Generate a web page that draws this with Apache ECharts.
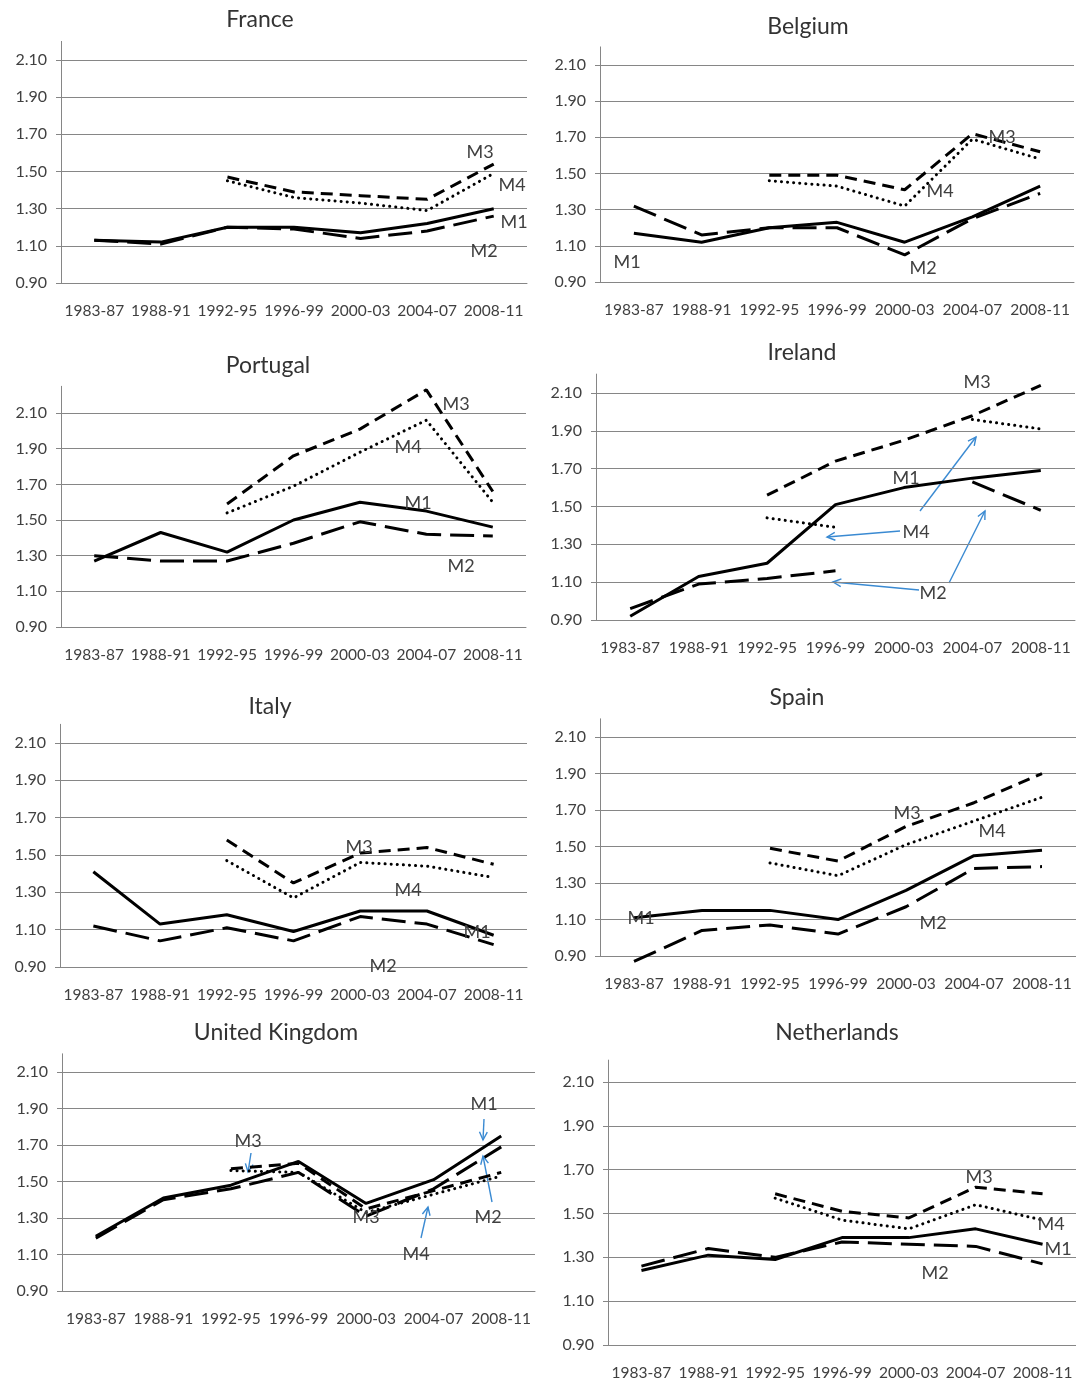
<!DOCTYPE html>
<html>
<head>
<meta charset="utf-8">
<script src="https://cdn.jsdelivr.net/npm/echarts@6/dist/echarts.min.js"></script>
<style>
  html, body { margin: 0; padding: 0; background: #fff; }
  #chart { width: 1076px; height: 1383px; }
</style>
</head>
<body>
<div id="chart"></div>
<script>
const periods = ['1983-87', '1988-91', '1992-95', '1996-99', '2000-03', '2004-07', '2008-11'];
const yTicks = [0.9, 1.1, 1.3, 1.5, 1.7, 1.9, 2.1];
const measures = ['M1', 'M2', 'M3', 'M4'];
const countries = ['France', 'Belgium', 'Portugal', 'Ireland', 'Italy', 'Spain', 'United Kingdom', 'Netherlands'];

// rows: M1, M2, M3, M4 (null = no value)
const france = [
  [1.13, 1.12, 1.20, 1.20, 1.17, 1.22, 1.30],
  [1.13, 1.11, 1.20, 1.19, 1.14, 1.18, 1.26],
  [null, null, 1.47, 1.39, 1.37, 1.35, 1.54],
  [null, null, 1.45, 1.36, 1.33, 1.29, 1.49]
];
const belgium = [
  [1.17, 1.12, 1.20, 1.23, 1.12, 1.26, 1.43],
  [1.32, 1.16, 1.20, 1.20, 1.05, 1.25, 1.39],
  [null, null, 1.49, 1.49, 1.41, 1.72, 1.62],
  [null, null, 1.46, 1.43, 1.32, 1.69, 1.58]
];
const portugal = [
  [1.27, 1.43, 1.32, 1.50, 1.60, 1.55, 1.46],
  [1.30, 1.27, 1.27, 1.37, 1.49, 1.42, 1.41],
  [null, null, 1.59, 1.86, 2.01, 2.23, 1.66],
  [null, null, 1.54, 1.69, 1.88, 2.06, 1.60]
];
const ireland = [
  [0.92, 1.13, 1.20, 1.51, 1.60, 1.65, 1.69],
  [0.96, 1.09, 1.12, 1.16, null, 1.63, 1.48],
  [null, null, 1.56, 1.74, 1.85, 1.98, 2.14],
  [null, null, 1.44, 1.39, null, 1.96, 1.91]
];
const italy = [
  [1.41, 1.13, 1.18, 1.09, 1.20, 1.20, 1.07],
  [1.12, 1.04, 1.11, 1.04, 1.17, 1.13, 1.02],
  [null, null, 1.58, 1.35, 1.51, 1.54, 1.45],
  [null, null, 1.47, 1.27, 1.46, 1.44, 1.38]
];
const spain = [
  [1.11, 1.15, 1.15, 1.10, 1.26, 1.45, 1.48],
  [0.87, 1.04, 1.07, 1.02, 1.17, 1.38, 1.39],
  [null, null, 1.49, 1.42, 1.61, 1.74, 1.90],
  [null, null, 1.41, 1.34, 1.51, 1.64, 1.77]
];
const uk = [
  [1.20, 1.41, 1.48, 1.61, 1.38, 1.51, 1.75],
  [1.19, 1.40, 1.46, 1.55, 1.31, 1.46, 1.69],
  [null, null, 1.57, 1.60, 1.35, 1.45, 1.55],
  [null, null, 1.56, 1.55, 1.33, 1.43, 1.53]
];
const netherlands = [
  [1.24, 1.31, 1.29, 1.39, 1.39, 1.43, 1.36],
  [1.26, 1.34, 1.30, 1.37, 1.36, 1.35, 1.27],
  [null, null, 1.59, 1.51, 1.48, 1.62, 1.59],
  [null, null, 1.57, 1.47, 1.43, 1.54, 1.47]
];
const countryData = [france, belgium, portugal, ireland, italy, spain, uk, netherlands];

// panel layout (pixels)
const panels = [
  { left: 61, top: 41.4, width: 466, height: 241.6, max: 2.2, tx: 260, ty: 20 },
  { left: 600, top: 46.9, width: 474, height: 235.1, max: 2.2, tx: 808, ty: 27 },
  { left: 61, top: 386.3, width: 465, height: 240.7, max: 2.25, tx: 268, ty: 366 },
  { left: 596, top: 374.1, width: 479, height: 245.9, max: 2.2, tx: 802, ty: 353 },
  { left: 60, top: 724.3, width: 467, height: 242.7, max: 2.2, tx: 270, ty: 707 },
  { left: 600, top: 718.8, width: 476, height: 237.2, max: 2.2, tx: 797, ty: 698 },
  { left: 62, top: 1053.8, width: 473, height: 237.2, max: 2.2, tx: 276, ty: 1033 },
  { left: 608, top: 1060.1, width: 468, height: 284.9, max: 2.2, tx: 837, ty: 1033 }
];

// hand-placed series labels
const notes = [
  ['M3', 480, 152], ['M4', 512, 185], ['M1', 514, 222], ['M2', 484, 251],
  ['M3', 1002, 137], ['M4', 940, 191], ['M2', 923, 268], ['M1', 627, 262],
  ['M3', 456, 404], ['M4', 408, 447], ['M1', 418, 503], ['M2', 461, 566],
  ['M3', 977, 382], ['M1', 906, 478], ['M4', 916, 532], ['M2', 933, 593],
  ['M3', 359, 847], ['M4', 408, 890], ['M1', 477, 932], ['M2', 383, 966],
  ['M3', 907, 813], ['M4', 992, 831], ['M1', 641, 918], ['M2', 933, 923],
  ['M1', 484, 1104], ['M3', 248, 1141], ['M3', 366, 1217], ['M2', 488, 1217], ['M4', 416, 1254],
  ['M3', 979, 1177], ['M4', 1051, 1224], ['M1', 1058, 1249], ['M2', 935, 1273]
];
const arrows = [
  [920, 511, 976, 437], [900, 531, 827, 537], [919, 590, 833, 582], [949, 583, 985, 511],
  [484, 1119, 483, 1140], [251, 1153, 248, 1172], [492, 1202, 483, 1156], [421, 1238, 428, 1207]
];

const font = 'Lato, "Open Sans", sans-serif';
const gray = '#868686';
const textColor = '#404040';
const blue = '#3a8ad2';

const lineStyles = [
  { color: '#000', width: 3, type: 'solid' },
  { color: '#000', width: 3, type: [24, 9] },
  { color: '#000', width: 3, type: [12, 7] },
  { color: '#000', width: 3, type: [0.1, 6], cap: 'round' }
];

function arrow(a) {
  const [x1, y1, x2, y2] = a;
  const ang = Math.atan2(y2 - y1, x2 - x1), h = 9, s = 0.45;
  return {
    type: 'group', silent: true,
    children: [
      { type: 'line', shape: { x1, y1, x2, y2 }, style: { stroke: blue, lineWidth: 1.4 } },
      { type: 'polyline', shape: { points: [
          [x2 - h * Math.cos(ang - s), y2 - h * Math.sin(ang - s)],
          [x2, y2],
          [x2 - h * Math.cos(ang + s), y2 - h * Math.sin(ang + s)]
        ] }, style: { stroke: blue, lineWidth: 1.4, fill: null } }
    ]
  };
}

const grids = [], xAxes = [], yAxes = [], series = [], graphics = [];

panels.forEach((p, i) => {
  grids.push({ left: p.left, top: p.top, width: p.width, height: p.height });
  xAxes.push({
    type: 'category', gridIndex: i, data: periods, boundaryGap: true,
    axisLine: { onZero: false, lineStyle: { color: gray, width: 1 } },
    axisTick: { length: 5, lineStyle: { color: gray } },
    axisLabel: { interval: 0, margin: 20, fontSize: 15.5, color: textColor, fontFamily: font },
    splitLine: { show: false }
  });
  yAxes.push({
    type: 'value', gridIndex: i, min: 0.9, max: p.max, interval: 0.2,
    axisLine: { show: true, lineStyle: { color: gray, width: 1 } },
    axisTick: { show: true, length: 5, lineStyle: { color: gray }, customValues: yTicks },
    axisLabel: { customValues: yTicks, margin: 14, fontSize: 16,
      color: textColor, fontFamily: font, formatter: v => v.toFixed(2) },
    splitLine: { show: true, lineStyle: { color: gray, width: 1 } }
  });
  countryData[i].forEach((vals, j) => {
    series.push({
      name: countries[i] + ' ' + measures[j],
      type: 'line', xAxisIndex: i, yAxisIndex: i,
      data: vals, symbol: 'none', clip: false, connectNulls: false,
      lineStyle: lineStyles[j], silent: true, z: 5 - j
    });
  });
  graphics.push({
    type: 'text', x: p.tx, y: p.ty, silent: true,
    style: { text: countries[i], fill: '#333', font: '23px ' + font, align: 'center', verticalAlign: 'middle' }
  });
});

notes.forEach(n => {
  graphics.push({
    type: 'text', x: n[1], y: n[2], silent: true, z: 20,
    style: { text: n[0], fill: textColor, font: '18px ' + font, align: 'center', verticalAlign: 'middle' }
  });
});
arrows.forEach(a => graphics.push(Object.assign(arrow(a), { z: 20 })));

const myChart = echarts.init(document.getElementById('chart'));
myChart.setOption({
  animation: false,
  backgroundColor: '#fff',
  grid: grids,
  xAxis: xAxes,
  yAxis: yAxes,
  series: series,
  graphic: graphics
});
</script>
</body>
</html>
